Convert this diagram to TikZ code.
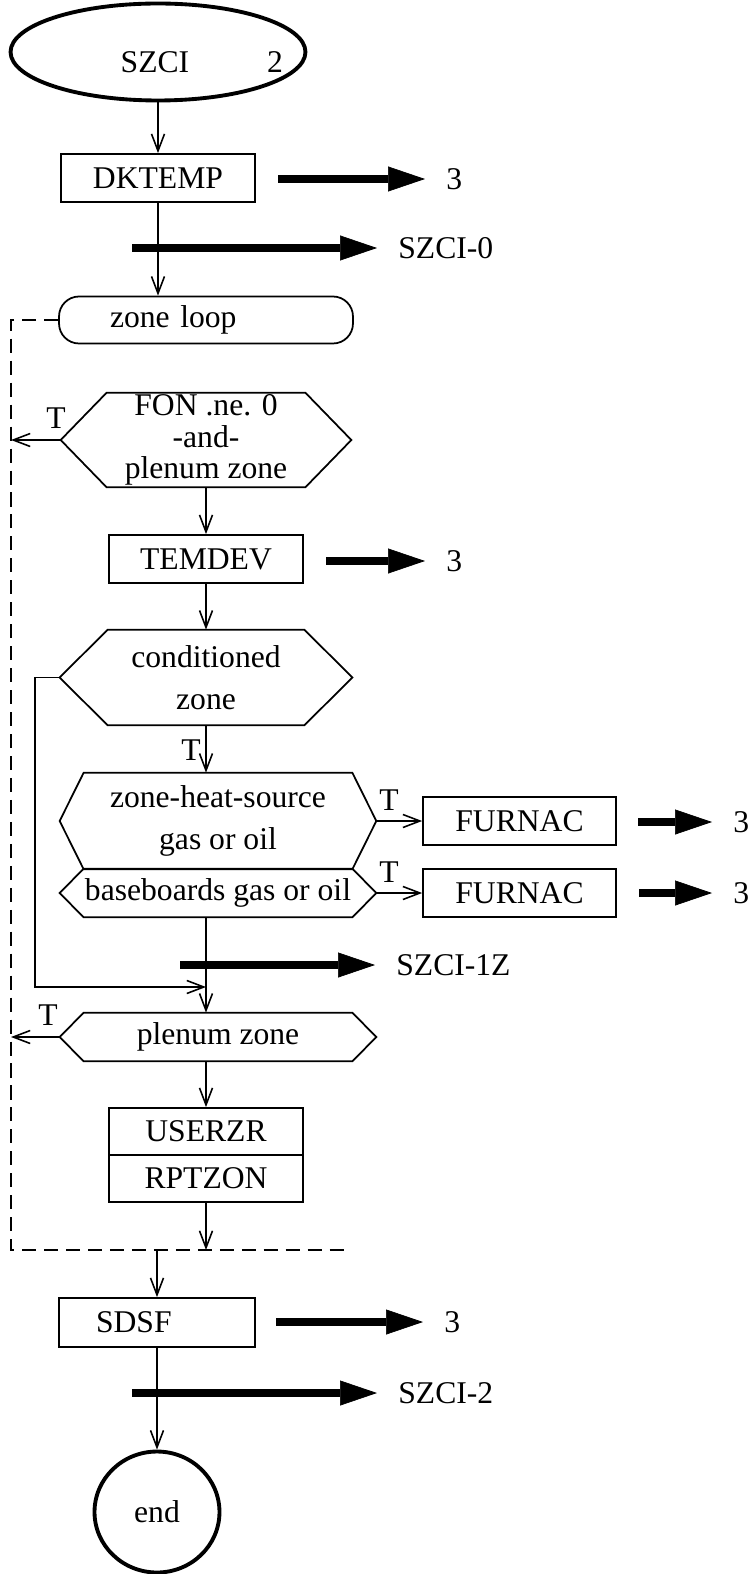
\documentclass[tikz,border=0pt]{standalone}
\usepackage{fontspec}
\setmainfont{Liberation Serif}
\usepackage{tikz}
\usetikzlibrary{arrows.meta,positioning,calc,shapes.geometric}

\tikzset{
  box/.style={draw,line width=1pt,rectangle,inner sep=0pt,minimum width=3.88cm,minimum height=0.96cm},
  hexbox/.style={rectangle,inner sep=0pt,align=center},
  term/.style={draw,ellipse,line width=2.2pt,inner sep=0pt},
  flow/.style={->,line width=0.9pt},
  bigarrow/.style={line width=4.5pt,-{Triangle[length=7.4mm,width=5mm,line width=0.4pt]}},
  tag/.style={anchor=west,inner xsep=0.42cm,inner ysep=0pt},
  loopline/.style={line width=1.2pt,dash pattern=on 8pt off 4.5pt},
}

\begin{document}
\begin{tikzpicture}[x=0.02cm,y=-0.02cm,>={Straight Barb[length=3.4mm,width=2.6mm]},font=\fontsize{18}{22}\selectfont]
  \useasboundingbox (0,0) rectangle (750,1574);
  % start
  \node[term,minimum width=5.9cm,minimum height=1.94cm] (start) at (158,52) {};
  \node (startname) at (155,62) {SZCI};
  \node (startnum) at (275,62) {2};
  % main column
  \node[box] (dktemp) at (158,178) {DKTEMP};
  \node[box,rounded corners=0.4cm,minimum width=5.88cm,minimum height=0.94cm,
        text width=3.84cm,inner xsep=1.02cm,align=left] (zoneloop) at (206,320) {zone loop};
  \node[hexbox,minimum width=3.96cm,minimum height=1.88cm,font=\fontsize{18}{18}\selectfont]
    (fon) at (206,440) {FON .ne. 0\\-and-\\plenum zone};
  \node[box] (temdev) at (206,559) {TEMDEV};
  \node[hexbox,minimum width=3.92cm,minimum height=1.9cm,font=\fontsize{18}{24}\selectfont]
    (cond) at (206,677.5) {conditioned\\zone};
  \node[hexbox,minimum width=5.36cm,minimum height=1.92cm,font=\fontsize{18}{24}\selectfont]
    (zhs) at (218,821) {zone-heat-source\\gas or oil};
  \node[hexbox,minimum width=5.36cm,minimum height=0.96cm] (bb) at (218,893) {baseboards gas or oil};
  \node[box,minimum width=3.86cm] (furnac1) at (519.5,821) {FURNAC};
  \node[box,minimum width=3.86cm] (furnac2) at (519.5,893) {FURNAC};
  \node[hexbox,minimum width=5.36cm,minimum height=0.96cm] (plenum) at (218,1037) {plenum zone};
  \node[box,minimum height=0.94cm] (userzr) at (206,1131.5) {USERZR};
  \node[box,minimum height=0.94cm] (rptzon) at (206,1178.5) {RPTZON};
  \node[box,minimum width=3.92cm,minimum height=0.98cm,
        text width=2.44cm,inner xsep=0.74cm,align=left] (sdsf) at (157,1322.5) {SDSF};
  \node[term,minimum width=2.5cm,minimum height=2.42cm] (endnode) at (157,1512) {end};
  % hexagon outlines
  \foreach \h/\e in {fon/46,cond/48,zhs/24,bb/24,plenum/24}{
    \draw[line width=1pt] (\h.north west) -- (\h.north east) -- ($(\h.east)+(\e,0)$) coordinate (\h-r)
      -- (\h.south east) -- (\h.south west) -- ($(\h.west)+(-\e,0)$) coordinate (\h-l) -- cycle;
  }
  % T labels
  \node (t-fon) at (56,418) {T};
  \node (t-cond) at (191,750) {T};
  \node (t-zhs) at (389,800) {T};
  \node (t-bb) at (389,872) {T};
  \node (t-plen) at (48,1015) {T};
  % zone loop
  \coordinate (lpa) at (11,320);
  \coordinate (lpb) at (11,1250);
  \coordinate (lpc) at (346,1250);
  \draw[loopline] (zoneloop.west) -- (lpa) -- (lpb) -- (lpc);
  % flow lines
  \draw[flow] (start) -- (dktemp);
  \draw[flow] (dktemp) -- (dktemp.south |- zoneloop.north);
  \draw[flow] (fon-l) -- (fon-l -| lpa);
  \draw[flow] (fon) -- (temdev);
  \draw[flow] (temdev) -- (cond);
  \draw[flow] (cond.south) -- (cond.south |- zhs.north);
  \draw[flow] (zhs-r) -- (furnac1);
  \draw[flow] (bb-r) -- (furnac2);
  \draw[flow] (temdev |- bb.south) -- (temdev |- plenum.north);
  \coordinate (byp) at (35,987);
  \draw[flow] (cond-l) -| (byp) -- (temdev |- byp);
  \draw[flow] (plenum-l) -- (plenum-l -| lpa);
  \draw[flow] (temdev |- plenum.south) -- (userzr);
  \draw[flow] (rptzon) -- (rptzon |- lpc);
  \draw[flow] (sdsf |- lpc) -- (sdsf);
  \draw[flow] (sdsf) -- (endnode);
  % off-page arrows
  \foreach \nm/\xa/\xb/\yy/\lab in {g1/278/425/179/3, g2/132/377/248/SZCI-0, g3/326/425/561/3,
      g4/638/712/822/3, g5/639/712/893/3, g6/180/375/965/SZCI-1Z, g7/276/423/1322/3, g8/132/377/1393/SZCI-2}{
    \coordinate (\nm-s) at (\xa,\yy);
    \node[tag] (\nm) at (\xb,\yy) {\lab};
    \draw[bigarrow] (\nm-s) -- (\nm.west);
  }
\end{tikzpicture}
\end{document}
